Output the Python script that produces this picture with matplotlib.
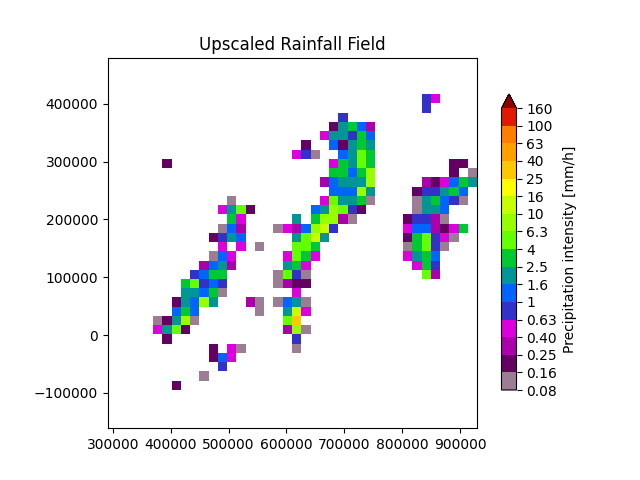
import numpy as np
import matplotlib
matplotlib.use("Agg")
import matplotlib.pyplot as plt
from matplotlib.colors import ListedColormap, BoundaryNorm

# colour class boundaries [mm/h]
levels = [0.08, 0.16, 0.25, 0.40, 0.63, 1, 1.6, 2.5, 4, 6.3, 10, 16, 25, 40, 63, 100, 160]
level_labels = ["0.08", "0.16", "0.25", "0.40", "0.63", "1", "1.6", "2.5", "4", "6.3",
                "10", "16", "25", "40", "63", "100", "160"]
colors = ["#9c7e94", "#640064", "#aa00aa", "#dc00dc", "#3232c8", "#0064ff", "#009696", "#00c832",
          "#64ff00", "#96ff00", "#c8ff00", "#ffff00", "#ffc800", "#ffa000", "#ff7d00", "#e11900"]
over_color = "#8b0000"

# one letter per class: a = 0.08-0.16, b = 0.16-0.25 ... '.' = no rain
# first row is the northernmost
field_rows = [
    ".............................ed....",
    ".............................e.....",
    "....................e..............",
    "...................bghfc...........",
    "..................dggehf...........",
    "................b..fbghg...........",
    "...............dea..fgih...........",
    ".b.................dhgih........bb.",
    "...................hhfhj........b.a",
    "..................cfgggj.....cbdfhg",
    "...................fffjg....beeghf.",
    "........a.........diggha....aghfea.",
    ".......dgib......fgjieb.....aggf...",
    "........hd.....g.hjjca.....beeca...",
    ".......afc...adcfjke.......dffcbdh.",
    "......begf.....gikg........bhieda..",
    ".......d.d.a...iih.........ahiea...",
    "......afd.....dihd.........dghf....",
    ".....cfgc.....ghd...........dhe....",
    "....efhh.....aiea............ic....",
    "...hiefe.....acbb..................",
    "...ggfha.......d...................",
    "..bgfjg...ca.afga..................",
    "..fhf......a..gkd..................",
    "abgja.........im...................",
    "dgib..........cja..................",
    ".b.............e...................",
    "......b.da.....a...................",
    "......bfd..........................",
    ".......e...........................",
    ".....a.............................",
    "..b................................",
]

x_first = 369500
y_top = 417000
cell = 16000

# class letters to rain rates (geometric middle of the class)
mids = np.sqrt(np.array(levels[:-1]) * np.array(levels[1:]))
rain = np.full((len(field_rows), len(field_rows[0])), np.nan)
for i, row in enumerate(field_rows):
    for j, ch in enumerate(row):
        if ch != ".":
            rain[i, j] = mids[ord(ch) - ord("a")]

x_edges = x_first + cell * np.arange(rain.shape[1] + 1)
y_edges = y_top - cell * np.arange(rain.shape[0] + 1)

cmap = ListedColormap(colors)
cmap.set_over(over_color)
norm = BoundaryNorm(levels, cmap.N)

fig = plt.figure(figsize=(6.4, 4.8), dpi=100)
ax = fig.add_axes([108 / 640, 1 - 428 / 480, 369 / 640, 370 / 480])
mesh = ax.pcolormesh(x_edges, y_edges, np.ma.masked_invalid(rain), cmap=cmap, norm=norm,
                     antialiased=False, linewidth=0)
ax.set_xlim(291350, 929400)
ax.set_ylim(-161000, 479600)
ax.set_xticks(np.arange(300000, 900001, 100000))
ax.set_yticks(np.arange(-100000, 400001, 100000))
ax.set_title("Upscaled Rainfall Field")

cax = fig.add_axes([501.5 / 640, 1 - 390 / 480, 15 / 640, 296 / 480])
cbar = fig.colorbar(mesh, cax=cax, extend="max", spacing="uniform", ticks=levels)
cbar.ax.set_yticklabels(level_labels)
cbar.ax.minorticks_off()
cbar.set_label("Precipitation intensity [mm/h]")

fig.savefig("out.png", dpi=100)
